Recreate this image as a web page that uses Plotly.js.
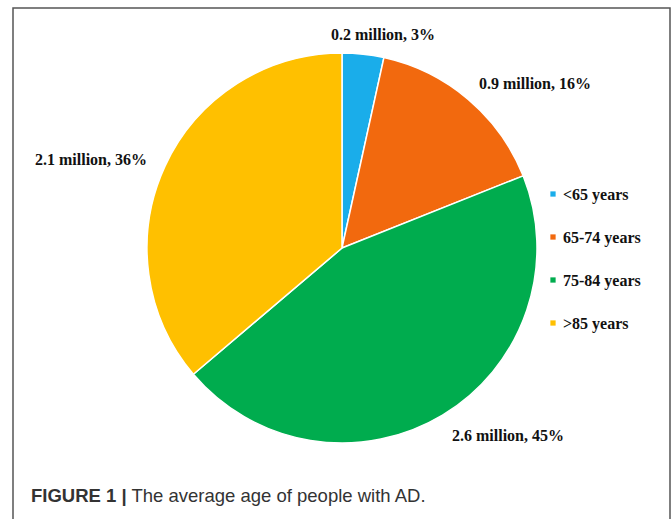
<!DOCTYPE html>
<html>
<head>
<meta charset="utf-8">
<script src="https://cdn.plot.ly/plotly-3.0.1.min.js"></script>
<style>html,body{margin:0;padding:0;background:#fff;}#chart{width:672px;height:519px;}</style>
</head>
<body>
<div id="chart"></div>
<script>
// Data
var categories = ["<65 years", "65-74 years", "75-84 years", ">85 years"];
var millions = [0.2, 0.9, 2.6, 2.1];
var percents = [3, 16, 45, 36];
var colors = ["#1AADEA", "#F2690E", "#00AC4E", "#FFC000"];
var captionBold = "FIGURE 1 |";
var captionText = "The average age of people with AD.";

var labelFont = {family: "Liberation Serif, Times New Roman, serif", size: 16, color: "#111"};
// label anchor positions (pixels, layout only)
var labelPos = [[383, 35], [535, 83], [508, 435], [91, 159]];
var W = 672, H = 519;

var annotations = labelPos.map(function (p, i) {
  return {
    xref: "paper", yref: "paper",
    x: p[0] / W, y: 1 - p[1] / H,
    xanchor: "center", yanchor: "middle",
    showarrow: false,
    text: "<b>" + millions[i] + " million, " + percents[i] + "%</b>",
    font: labelFont
  };
});
annotations.push({
  xref: "paper", yref: "paper",
  x: 29 / W, y: 1 - 495 / H,
  xanchor: "left", yanchor: "middle",
  showarrow: false,
  text: "<b>" + captionBold + "</b> " + captionText,
  font: {family: "Liberation Sans, Arial, sans-serif", size: 18.5, color: "#333"}
});

var cx = 342, cy = 248, r = 195;
var trace = {
  type: "pie",
  labels: categories,
  values: millions,
  sort: false,
  direction: "clockwise",
  rotation: 0,
  textinfo: "none",
  hoverinfo: "label+value+percent",
  marker: {colors: colors, line: {color: "#ffffff", width: 1.5}},
  domain: {x: [(cx - r) / W, (cx + r) / W], y: [1 - (cy + r) / H, 1 - (cy - r) / H]},
  automargin: false
};

var layout = {
  width: W, height: H,
  margin: {l: 0, r: 0, t: 0, b: 0},
  paper_bgcolor: "#ffffff",
  showlegend: true,
  legend: {
    x: 523 / W, y: 1 - 184 / H, xanchor: "left", yanchor: "top",
    font: {family: "Liberation Serif, Times New Roman, serif", size: 16, color: "#111"},
    bgcolor: "rgba(0,0,0,0)"
  },
  annotations: annotations,
  shapes: [{
    type: "rect", xref: "paper", yref: "paper",
    x0: 13 / W, x1: 670 / W, y0: -0.05, y1: 1 - 8 / H,
    line: {color: "#555", width: 1.5}, fillcolor: "rgba(0,0,0,0)"
  }]
};

Plotly.newPlot("chart", [trace], layout, {displayModeBar: false, staticPlot: true}).then(function () {
  var sb = document.querySelector("g.legend g.scrollbox");
  if (sb) { sb.removeAttribute("clip-path"); }
  var items = document.querySelectorAll("g.legend g.traces");
  items.forEach(function (g, i) {
    g.setAttribute("transform", "translate(0," + (10 + i * 43) + ")");
    var pts = g.querySelectorAll(".legendpoints path");
    pts.forEach(function (p) {
      p.setAttribute("transform", "translate(30,0) scale(0.5)");
    });
    var txt = g.querySelector("text.legendtext");
    if (txt) { txt.style.fontWeight = "bold"; }
  });
});
</script>
</body>
</html>
